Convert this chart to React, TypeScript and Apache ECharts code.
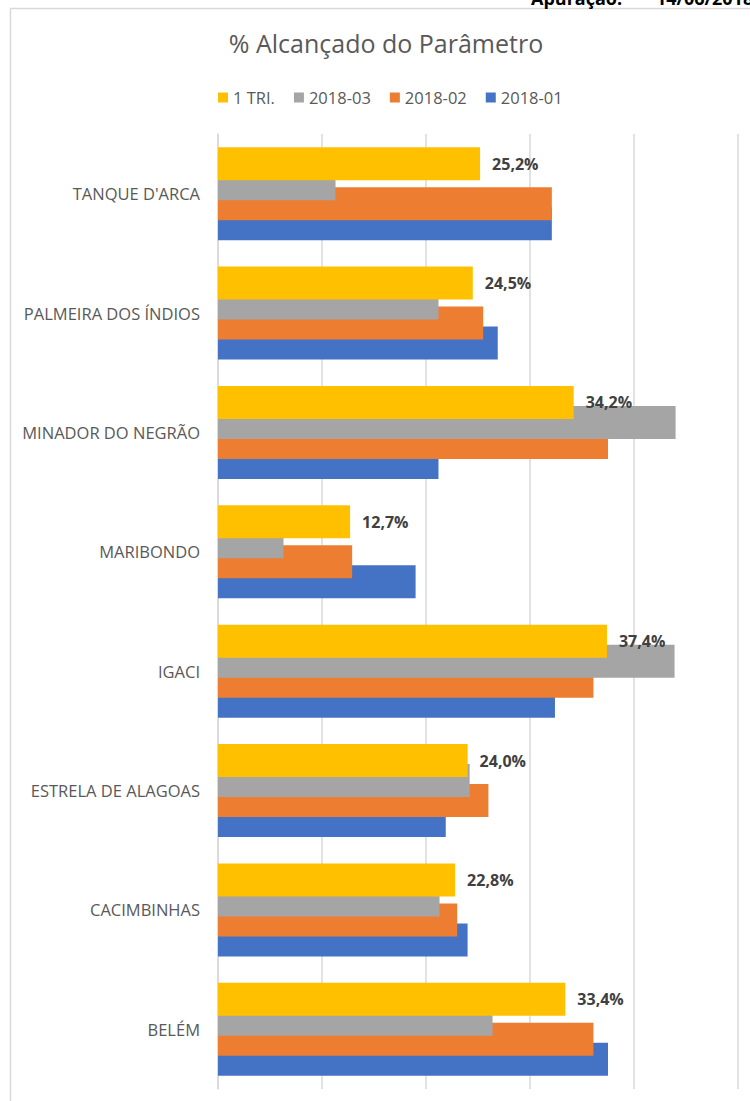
import React, { useEffect, useRef } from "react";
import * as echarts from "echarts";

const categories = [
  "TANQUE D'ARCA",
  "PALMEIRA DOS ÍNDIOS",
  "MINADOR DO NEGRÃO",
  "MARIBONDO",
  "IGACI",
  "ESTRELA DE ALAGOAS",
  "CACIMBINHAS",
  "BELÉM",
];

const seriesNames = ["1 TRI.", "2018-03", "2018-02", "2018-01"];
const tri1 = [25.2, 24.5, 34.2, 12.7, 37.4, 24.0, 22.8, 33.4];
const m2018_03 = [11.3, 21.2, 44.0, 6.3, 43.9, 24.2, 21.3, 26.4];
const m2018_02 = [32.1, 25.5, 37.5, 12.9, 36.1, 26.0, 23.0, 36.1];
const m2018_01 = [32.1, 26.9, 21.2, 19.0, 32.4, 21.9, 24.0, 37.5];
const seriesColors = ["#FFC000", "#A5A5A5", "#ED7D31", "#4472C4"];
const xTicks = [0, 10, 20, 30, 40, 50];

const titleText = "% Alcançado do Parâmetro";
const headerLabel = "Apuração:";
const headerDate = "14/06/2018";

const FONT = "'Open Sans', sans-serif";

export default function App() {
  const ref = useRef<HTMLDivElement>(null);
  useEffect(() => {
    if (!ref.current) return;
    const chart = echarts.init(ref.current, undefined, { renderer: "svg" });
    const values = [tri1, m2018_03, m2018_02, m2018_01];
    const series = values.map((data, i) => ({
      name: seriesNames[i],
      type: "bar",
      data,
      barWidth: 33,
      barGap: "-39.4%",
      z: 10 - i,
      itemStyle: { color: seriesColors[i] },
      label:
        i === 0
          ? {
              show: true,
              position: "right",
              distance: 12,
              color: "#404040",
              fontFamily: FONT,
              fontWeight: "bold",
              fontSize: 16,
              formatter: (p: any) => p.value.toFixed(1).replace(".", ",") + "%",
            }
          : { show: false },
    }));
    chart.setOption({
      animation: false,
      backgroundColor: "#ffffff",
      textStyle: { fontFamily: FONT },
      title: {
        text: titleText,
        left: 381,
        textAlign: "center",
        top: 25,
        textStyle: { fontFamily: FONT, fontSize: 25, fontWeight: "normal", color: "#595959" },
      },
      legend: {
        data: seriesNames,
        left: 213,
        top: 84,
        icon: "rect",
        itemWidth: 10,
        itemHeight: 10,
        itemGap: 19,
        textStyle: { fontFamily: FONT, fontSize: 16.5, color: "#595959" },
      },
      grid: { left: 218, top: 134, width: 520, height: 955, containLabel: false },
      xAxis: {
        type: "value",
        min: xTicks[0],
        max: xTicks[xTicks.length - 1],
        interval: xTicks[1] - xTicks[0],
        axisLabel: { show: false },
        axisLine: { show: false },
        axisTick: { show: false },
        splitLine: { show: true, lineStyle: { color: "#D9D9D9", width: 1.5 } },
      },
      yAxis: {
        type: "category",
        data: categories,
        inverse: true,
        axisLine: { show: true, lineStyle: { color: "#D9D9D9", width: 1.5 } },
        axisTick: { show: false },
        axisLabel: { margin: 18, fontFamily: FONT, fontSize: 16.5, color: "#595959" },
      },
      graphic: [
        {
          type: "rect",
          shape: { x: 10.5, y: 8.5, width: 751, height: 1200 },
          style: { fill: "none", stroke: "#D9D9D9", lineWidth: 1.5 },
          silent: true,
          z: -1,
        },
        {
          type: "text",
          x: 531,
          y: 7,
          style: {
            text: headerLabel,
            fontFamily: FONT,
            fontWeight: "bold",
            fontSize: 18,
            fill: "#000000",
            verticalAlign: "bottom",
          },
        },
        {
          type: "text",
          x: 656,
          y: 7,
          style: {
            text: headerDate,
            fontFamily: FONT,
            fontWeight: "bold",
            fontSize: 18,
            fill: "#000000",
            verticalAlign: "bottom",
          },
        },
      ],
      series,
    });
    return () => chart.dispose();
  }, []);
  return (
    <div
      ref={ref}
      style={{ position: "absolute", left: 0, top: 0, width: 750, height: 1101, background: "#fff" }}
    />
  );
}
